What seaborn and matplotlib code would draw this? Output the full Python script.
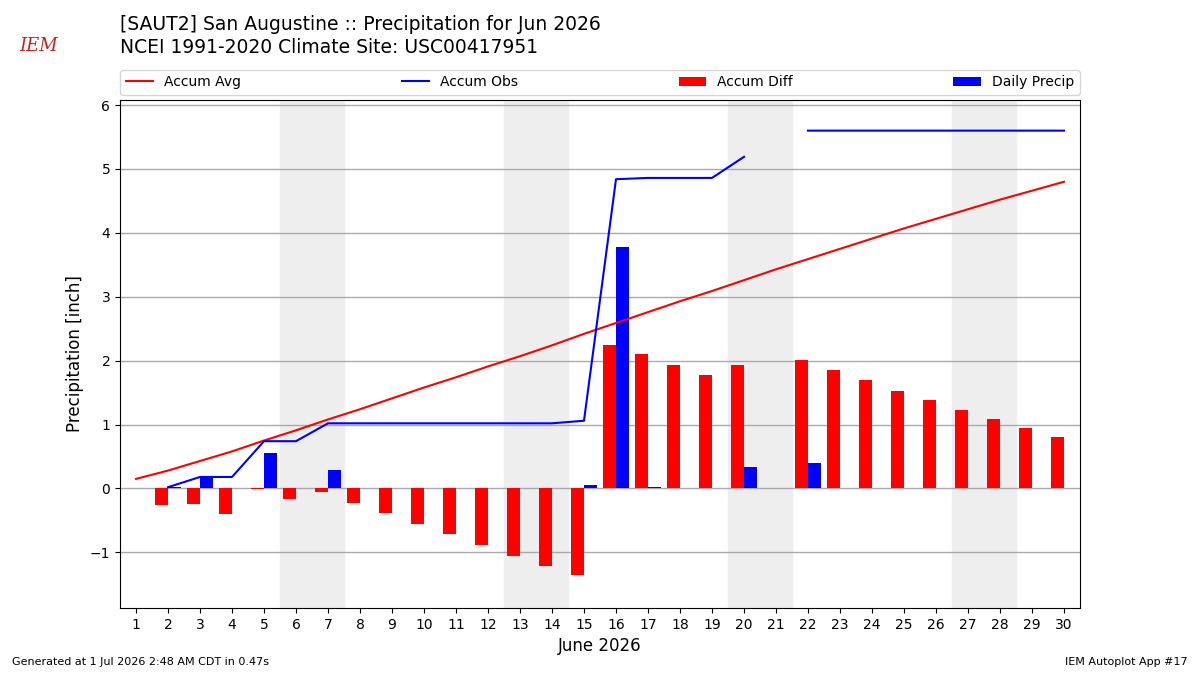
import numpy as np
import pandas as pd
import matplotlib
matplotlib.use("Agg")
import matplotlib.pyplot as plt
import seaborn as sns

# Tageswerte Juni 2026
days = list(range(1, 31))
accum_avg = [0.15, 0.28, 0.43, 0.58, 0.75, 0.91, 1.08, 1.24, 1.41, 1.58,
             1.74, 1.91, 2.07, 2.24, 2.42, 2.59, 2.76, 2.93, 3.09, 3.26,
             3.43, 3.59, 3.75, 3.91, 4.07, 4.22, 4.37, 4.52, 4.66, 4.80]
accum_obs = [np.nan, 0.02, 0.18, 0.18, 0.74, 0.74, 1.02, 1.02, 1.02, 1.02,
             1.02, 1.02, 1.02, 1.02, 1.06, 4.84, 4.86, 4.86, 4.86, 5.19,
             np.nan, 5.60, 5.60, 5.60, 5.60, 5.60, 5.60, 5.60, 5.60, 5.60]
accum_diff = [np.nan, -0.26, -0.25, -0.40, -0.01, -0.17, -0.06, -0.22, -0.39, -0.56,
              -0.72, -0.89, -1.05, -1.22, -1.36, 2.25, 2.10, 1.93, 1.77, 1.93,
              np.nan, 2.01, 1.85, 1.69, 1.53, 1.38, 1.23, 1.08, 0.94, 0.80]
daily_precip = [np.nan, 0.02, 0.16, 0.0, 0.55, 0.0, 0.29, 0.0, 0.0, 0.0,
                0.0, 0.0, 0.0, 0.0, 0.05, 3.78, 0.02, 0.0, 0.0, 0.33,
                np.nan, 0.40, 0.0, 0.0, 0.0, 0.0, 0.0, 0.0, 0.0, 0.0]
weekends = [(5.5, 7.5), (12.5, 14.5), (19.5, 21.5), (26.5, 28.5)]

df = pd.DataFrame({"day": days, "avg": accum_avg, "obs": accum_obs,
                   "diff": accum_diff, "precip": daily_precip})

fig = plt.figure(figsize=(12, 6.75), dpi=100)
ax = fig.add_axes([0.1, 0.0993, 0.8, 0.7526])

for a, b in weekends:
    ax.axvspan(a, b, color="#eeeeee", zorder=0)

ax.bar(df["day"], df["diff"], width=-0.4, align="edge", color="red",
       label="Accum Diff", zorder=2)
ax.bar(df["day"], df["precip"], width=0.4, align="edge", color="blue",
       label="Daily Precip", zorder=2)
sns.lineplot(data=df, x="day", y="avg", ax=ax, color="red", lw=1.5,
             label="Accum Avg", zorder=3)
# Lücke an Tag 21 beibehalten -> direkt mit matplotlib
ax.plot(df["day"], df["obs"], color="blue", lw=1.5, label="Accum Obs", zorder=3)

ax.set_xlim(0.5, 30.5)
ax.set_ylim(-1.87, 6.08)
ax.set_xticks(days)
ax.yaxis.grid(True, color="#aaaaaa", lw=1)
ax.set_axisbelow(True)
ax.set_xlabel("June 2026", fontsize=12)
ax.set_ylabel("Precipitation [inch]", fontsize=12)

handles, labels = ax.get_legend_handles_labels()
order = [labels.index(n) for n in ["Accum Avg", "Accum Obs", "Accum Diff", "Daily Precip"]]
ax.legend([handles[i] for i in order], [labels[i] for i in order],
          ncol=4, mode="expand", loc="lower left",
          bbox_to_anchor=(0, 1.01, 1, 0.05), borderaxespad=0, fontsize=10)

fig.text(0.1, 0.963, "[SAUT2] San Augustine :: Precipitation for Jun 2026",
         fontsize=13.5, va="center")
fig.text(0.1, 0.929, "NCEI 1991-2020 Climate Site: USC00417951",
         fontsize=13.5, va="center")
fig.text(0.032, 0.932, "IEM", color="#cc2222", fontsize=13, style="italic",
         family="serif", va="center", ha="center")
fig.text(0.01, 0.015, "Generated at 1 Jul 2026 2:48 AM CDT in 0.47s", fontsize=8)
fig.text(0.99, 0.015, "IEM Autoplot App #17", fontsize=8, ha="right")

fig.savefig("out.png", dpi=100)
